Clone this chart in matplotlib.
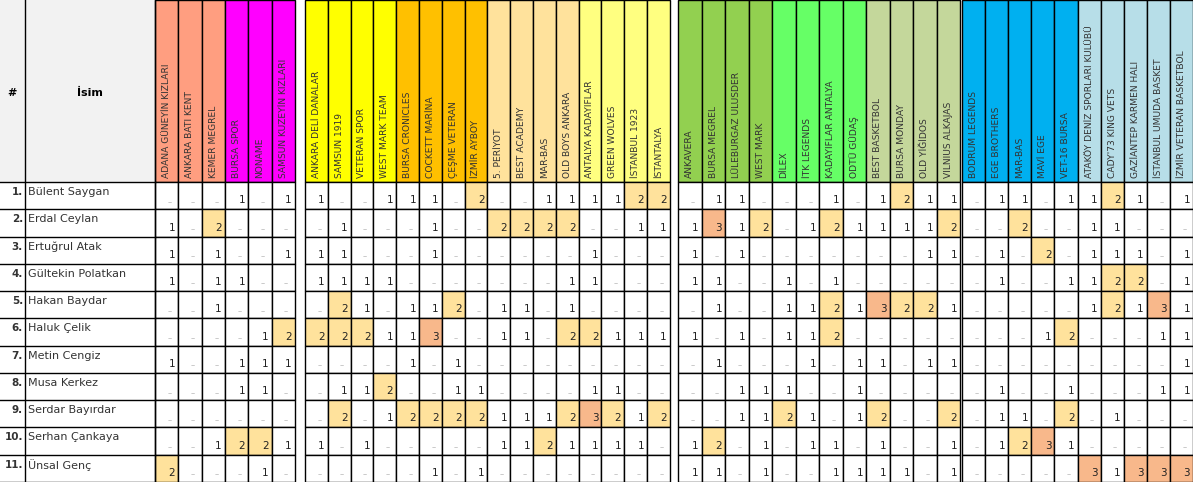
import matplotlib.pyplot as plt
from matplotlib.patches import Rectangle

plt.rcParams.update({'font.family': 'DejaVu Sans'})

# column groups: (x start, width of one cell, [(team, header colour), ...])
groups = [
    (155, 23.3, [('ADANA GÜNEYİN KIZLARI', '#FF9E80'), ('ANKARA BATI KENT', '#FF9E80'),
                 ('KEMER MEGREL', '#FF9E80'), ('BURSA SPOR', '#FF00FF'),
                 ('NONAME', '#FF00FF'), ('SAMSUN KUZEYİN KIZLARI', '#FF00FF')]),
    (305, 22.8, [('ANKARA DELİ DANALAR', '#FFFF00'), ('SAMSUN 1919', '#FFFF00'),
                 ('VETERAN SPOR', '#FFFF00'), ('WEST MARK TEAM', '#FFFF00'),
                 ('BURSA CRONICLES', '#FFC000'), ('COCKETT MARİNA', '#FFC000'),
                 ('ÇEŞME VETERAN', '#FFC000'), ('İZMİR AYBOY', '#FFC000'),
                 ('5. PERİYOT', '#FFE29C'), ('BEST ACADEMY', '#FFE29C'),
                 ('MAR-BAS', '#FFE29C'), ('OLD BOYS ANKARA', '#FFE29C'),
                 ('ANTALYA KADAYIFLAR', '#FFFF80'), ('GREEN WOLVES', '#FFFF80'),
                 ('İSTANBUL 1923', '#FFFF80'), ('İSTANTALYA', '#FFFF80')]),
    (678, 23.5, [('ANKAVERA', '#92D050'), ('BURSA MEGREL', '#92D050'),
                 ('LÜLEBURGAZ ULUSDER', '#92D050'), ('WEST MARK', '#92D050'),
                 ('DİLEX', '#66FF66'), ('İTK LEGENDS', '#66FF66'),
                 ('KADAYIFLAR ANTALYA', '#66FF66'), ('ODTÜ GÜDAŞ', '#66FF66'),
                 ('BEST BASKETBOL', '#C4D79B'), ('BURSA MONDAY', '#C4D79B'),
                 ('OLD YİĞİDOS', '#C4D79B'), ('VILNIUS ALKAJAS', '#C4D79B')]),
    (962, 23.1, [('BODRUM LEGENDS', '#00B0F0'), ('EGE BROTHERS', '#00B0F0'),
                 ('MAR-BAS', '#00B0F0'), ('MAVİ EGE', '#00B0F0'),
                 ('VET-16 BURSA', '#00B0F0'), ('ATAKÖY DENİZ SPORLARI KULÜBÜ', '#B7DEE8'),
                 ('CADY\'73 KING VETS', '#B7DEE8'), ('GAZİANTEP KARMEN HALI', '#B7DEE8'),
                 ('İSTANBUL UMUDA BASKET', '#B7DEE8'), ('İZMİR VETERAN BASKETBOL', '#B7DEE8')]),
]

names = ['Bülent Saygan', 'Erdal Ceylan', 'Ertuğrul Atak', 'Gültekin Polatkan',
         'Hakan Baydar', 'Haluk Çelik', 'Metin Cengiz', 'Musa Kerkez',
         'Serdar Bayırdar', 'Serhan Çankaya', 'Ünsal Genç']

# votes per referee, one list per group
data = [
    [[0,0,0,1,0,1], [1,0,0,1,1,1,0,2,0,0,1,1,1,1,2,2], [0,1,1,0,0,0,1,0,1,2,1,1], [0,1,1,0,1,1,2,1,0,1]],
    [[1,0,2,0,0,0], [0,1,0,0,0,1,0,0,2,2,2,2,0,0,1,1], [1,3,1,2,0,1,2,1,1,1,1,2], [0,0,2,0,0,1,1,0,0,0]],
    [[1,0,1,0,0,1], [1,1,0,0,0,1,0,0,0,0,0,0,1,0,0,0], [1,0,1,0,0,0,0,0,0,0,1,1], [0,1,0,2,0,1,1,1,0,1]],
    [[1,0,1,1,0,0], [1,1,1,1,0,0,0,0,0,0,0,1,1,0,0,0], [1,1,0,0,1,0,1,0,0,0,0,0], [0,1,0,0,1,1,2,2,0,1]],
    [[0,0,1,0,0,0], [0,2,1,0,1,1,2,0,1,1,0,1,0,0,0,0], [0,1,0,0,1,1,2,1,3,2,2,1], [0,0,0,0,0,1,2,1,3,1]],
    [[0,0,0,0,1,2], [2,2,2,1,1,3,0,0,1,1,0,2,2,1,1,1], [1,0,1,0,1,1,2,0,0,0,0,0], [0,0,0,1,2,0,0,0,1,1]],
    [[1,0,0,1,1,1], [0,0,0,0,1,0,1,0,0,0,0,0,0,0,0,0], [0,1,0,0,0,1,0,1,1,0,1,1], [0,0,0,0,0,0,0,0,0,1]],
    [[0,0,0,1,1,0], [0,1,1,2,0,0,1,1,0,0,0,0,1,1,0,0], [0,0,1,1,1,0,0,1,0,0,0,0], [0,1,0,0,1,0,0,0,1,1]],
    [[0,0,0,0,0,0], [0,2,0,1,2,2,2,2,1,1,1,2,3,2,1,2], [0,0,1,1,2,1,0,1,2,0,0,2], [0,1,1,0,2,0,1,0,0,0]],
    [[0,0,1,2,2,1], [1,0,1,0,0,0,0,0,1,1,2,1,1,1,1,0], [1,2,0,1,0,1,1,0,1,0,0,1], [0,1,2,3,1,0,0,0,0,0]],
    [[2,0,0,0,1,0], [0,0,0,0,0,1,0,1,0,0,0,0,0,0,0,0], [1,1,0,1,0,0,1,1,1,1,0,1], [0,0,0,0,0,3,1,3,3,3]],
]

fill = {2: '#FFE29C', 3: '#F8B88B'}

W, H = 1193, 482
head_h = 182
row_h = (H - head_h) / len(names)

fig = plt.figure(figsize=(W / 100, H / 100), dpi=100)
ax = fig.add_axes([0, 0, 1, 1])
ax.set_xlim(0, W)
ax.set_ylim(H, 0)
ax.axis('off')

# left header block
ax.add_patch(Rectangle((0, 0), 155, head_h, facecolor='#F2F2F2', edgecolor='none'))
ax.text(12, 93, '#', ha='center', va='center', fontsize=8, fontweight='bold')
ax.text(90, 93, 'İsim', ha='center', va='center', fontsize=8, fontweight='bold')
ax.plot([25, 25], [0, H], color='black', lw=1)
ax.plot([155, 155], [0, H], color='black', lw=1)

for r, nm in enumerate(names):
    y0 = head_h + r * row_h
    ax.text(23, y0 + 10, f'{r + 1}.', ha='right', va='center', fontsize=7.5, fontweight='bold', color='#333333')
    ax.text(28, y0 + 10, nm, ha='left', va='center', fontsize=8, color='#333333')
    ax.plot([0, 155], [y0 + row_h, y0 + row_h], color='black', lw=1)
ax.plot([0, 155], [head_h, head_h], color='black', lw=1)

for g, (x0, cw, cols) in enumerate(groups):
    for c, (team, col) in enumerate(cols):
        x = x0 + c * cw
        ax.add_patch(Rectangle((x, 0), cw, head_h, facecolor=col, edgecolor='black', lw=1))
        ax.text(x + cw / 2, head_h - 4, team, rotation=90, ha='center', va='bottom',
                fontsize=6.6, color='#333333')
        for r in range(len(names)):
            v = data[r][g][c]
            y0 = head_h + r * row_h
            ax.add_patch(Rectangle((x, y0), cw, row_h, facecolor=fill.get(v, 'white'),
                                   edgecolor='black', lw=1))
            if v:
                ax.text(x + cw - 3, y0 + row_h - 4, str(v), ha='right', va='bottom',
                        fontsize=7.5, color='#222222')
            else:
                ax.text(x + cw / 2 + 3, y0 + row_h - 7, '–', ha='center', va='center',
                        fontsize=6, color='#BBBBBB')

fig.savefig('out.png', dpi=100)
